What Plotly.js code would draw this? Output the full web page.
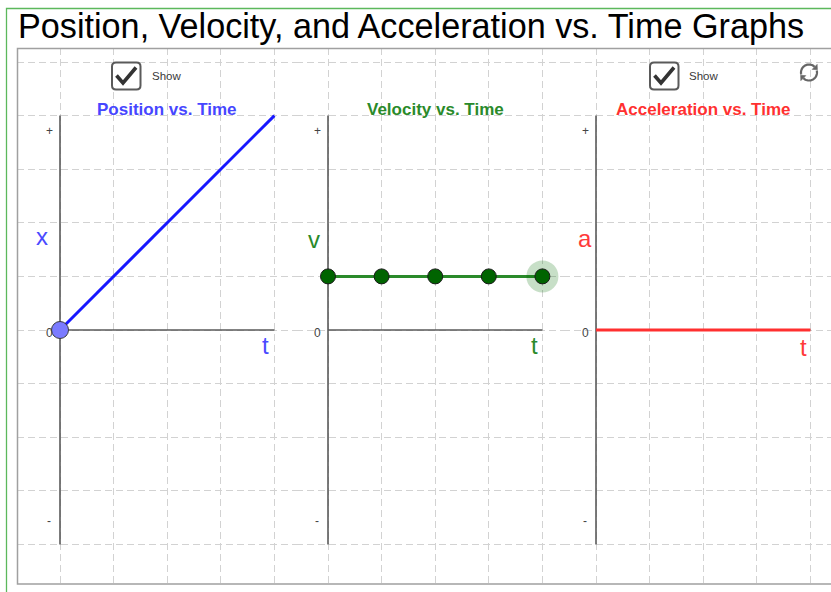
<!DOCTYPE html>
<html>
<head>
<meta charset="utf-8">
<script src="https://cdn.plot.ly/plotly-3.0.1.min.js"></script>
<style>
  html, body { margin: 0; padding: 0; background: #ffffff; }
  #chart { width: 831px; height: 592px; }
</style>
</head>
<body>
<div id="chart"></div>
<script>
// ---------------- data ----------------
const mainTitle = 'Position, Velocity, and Acceleration vs. Time Graphs';
const panelTitles = ['Position vs. Time', 'Velocity vs. Time', 'Acceleration vs. Time'];
const quantityLabels = ['x', 'v', 'a'];
const timeLabel = 't';
const timeVals = [0, 1, 2, 3, 4];
const positionVals = [0, 1, 2, 3, 4];
const velocityVals = [1, 1, 1, 1, 1];
const accelerationVals = [0, 0, 0, 0, 0];
const axisTimeExtent = [0, 4];
const axisValueExtent = [-4, 4];
const tickLabels = ['+', '0', '-'];
const tickLabelValues = [3.72, -0.05, -3.57];
const checkboxLabel = 'Show';

// ---------------- layout helpers ----------------
const W = 831, H = 592;
const FONT = '"Liberation Sans", Arial, sans-serif';
const px = x => x / W;
const py = y => 1 - y / H;
const P = (x, y) => px(x) + ',' + py(y);
const U = 53.6;                         // pixels per grid unit
const panel = { left: 17, right: 831, top: 48, bottom: 584 };
const originX = [60, 328, 596];
const originY = 330;
const splits = [17, 296, 563, 831];
const colors = ['#1818ff', '#2a8a2a', '#ff3030'];
const titleColors = ['#4646ff', '#2a8a2a', '#ff3030'];
const labelColors = ['#4a4aff', '#2a8a2a', '#ff3a3a'];
const qLabelPos = [[-0.33, 1.75], [-0.26, 1.68], [-0.2, 1.7]];
const tLabelPos = [[3.83, -0.28], [3.86, -0.28], [3.87, -0.32]];

const layout = {
  width: W, height: H,
  margin: { l: 0, r: 0, t: 0, b: 0 },
  paper_bgcolor: '#ffffff',
  plot_bgcolor: 'rgba(0,0,0,0)',
  showlegend: false,
  hovermode: false,
  annotations: [],
  shapes: []
};

const yRange = [(originY - panel.bottom) / U, (originY - panel.top) / U];
for (let i = 0; i < 3; i++) {
  const sfx = i === 0 ? '' : String(i + 1);
  const ax = {
    domain: [px(splits[i]), px(splits[i + 1])],
    range: [(splits[i] - originX[i]) / U, (splits[i + 1] - originX[i]) / U],
    showgrid: true, gridcolor: '#d2d2d2', gridwidth: 1, griddash: '7px,4px',
    dtick: 1, tick0: 0, showticklabels: false, ticks: '',
    zeroline: false, showline: false, fixedrange: true,
    anchor: 'y' + sfx
  };
  const ay = {
    domain: [py(panel.bottom), py(panel.top)],
    range: yRange,
    showgrid: true, gridcolor: '#d2d2d2', gridwidth: 1, griddash: '7px,4px',
    dtick: 1, tick0: 0, showticklabels: false, ticks: '',
    zeroline: false, showline: false, fixedrange: true,
    anchor: 'x' + sfx
  };
  layout['xaxis' + sfx] = ax;
  layout['yaxis' + sfx] = ay;

  const xr = 'x' + sfx, yr = 'y' + sfx;
  // axes lines
  layout.shapes.push({ type: 'line', xref: xr, yref: yr, layer: 'between',
    x0: 0, x1: 0, y0: axisValueExtent[0], y1: axisValueExtent[1],
    line: { color: '#5a5a5a', width: 1.6 } });
  layout.shapes.push({ type: 'line', xref: xr, yref: yr, layer: 'between',
    x0: axisTimeExtent[0], x1: axisTimeExtent[1], y0: 0, y1: 0,
    line: { color: '#5a5a5a', width: 1.6 } });

  // panel titles
  layout.annotations.push({ xref: xr, yref: yr, x: 2, y: 4.12, xanchor: 'center', yanchor: 'middle',
    text: '<b>' + panelTitles[i] + '</b>', showarrow: false,
    font: { family: FONT, size: 17, color: titleColors[i] } });
  // quantity label
  layout.annotations.push({ xref: xr, yref: yr, x: qLabelPos[i][0], y: qLabelPos[i][1], xanchor: 'center', yanchor: 'middle',
    text: quantityLabels[i], showarrow: false,
    font: { family: FONT, size: 24, color: labelColors[i] } });
  // time label
  layout.annotations.push({ xref: xr, yref: yr, x: tLabelPos[i][0], y: tLabelPos[i][1], xanchor: 'center', yanchor: 'middle',
    text: timeLabel, showarrow: false,
    font: { family: FONT, size: 24, color: labelColors[i] } });
  // tick labels
  tickLabels.forEach((t, k) => {
    layout.annotations.push({ xref: xr, yref: yr, x: -0.2, y: tickLabelValues[k], xanchor: 'center', yanchor: 'middle',
      text: t, showarrow: false,
      font: { family: FONT, size: 12, color: '#444444' } });
  });
}

// main title
layout.annotations.push({ xref: 'paper', yref: 'paper', x: px(16), y: py(26), xanchor: 'left', yanchor: 'middle',
  text: mainTitle, showarrow: false, font: { family: FONT, size: 34.2, color: '#000000' } });

// checkbox labels
[[150, 76], [687, 76]].forEach(([x, y]) => {
  layout.annotations.push({ xref: 'paper', yref: 'paper', x: px(x), y: py(y), xanchor: 'left', yanchor: 'middle',
    text: checkboxLabel, showarrow: false, font: { family: FONT, size: 11.5, color: '#3a3a3a' } });
});

// frame: green outer border and grey panel border
layout.shapes.push({ type: 'path', xref: 'paper', yref: 'paper', layer: 'above',
  path: 'M' + P(6.5, 592) + 'L' + P(6.5, 8.5) + 'L' + P(831, 8.5),
  line: { color: '#5cb85c', width: 1.3 } });
layout.shapes.push({ type: 'path', xref: 'paper', yref: 'paper', layer: 'above',
  path: 'M' + P(831, 48.5) + 'L' + P(17.5, 48.5) + 'L' + P(17.5, 584) + 'L' + P(831, 584),
  line: { color: '#a0a0a0', width: 1.5 } });

// checkboxes
function roundRect(x0, y0, x1, y1, r) {
  return 'M' + P(x0 + r, y0) + 'L' + P(x1 - r, y0) + 'Q' + P(x1, y0) + ' ' + P(x1, y0 + r) +
    'L' + P(x1, y1 - r) + 'Q' + P(x1, y1) + ' ' + P(x1 - r, y1) +
    'L' + P(x0 + r, y1) + 'Q' + P(x0, y1) + ' ' + P(x0, y1 - r) +
    'L' + P(x0, y0 + r) + 'Q' + P(x0, y0) + ' ' + P(x0 + r, y0) + 'Z';
}
[112, 650].forEach(bx => {
  layout.shapes.push({ type: 'path', xref: 'paper', yref: 'paper', layer: 'above',
    path: roundRect(bx, 62.5, bx + 28.5, 89.5, 4),
    fillcolor: '#ffffff', line: { color: '#5a5a5a', width: 2 } });
  layout.shapes.push({ type: 'path', xref: 'paper', yref: 'paper', layer: 'above',
    path: 'M' + P(bx + 4.5, 75.5) + 'L' + P(bx + 11, 83) + 'L' + P(bx + 24, 67.5),
    line: { color: '#333333', width: 3.6 } });
});

// refresh icon
function arcPts(cx, cy, r, a0, a1, n) {
  let s = '';
  for (let k = 0; k <= n; k++) {
    const a = (a0 + (a1 - a0) * k / n) * Math.PI / 180;
    s += (k === 0 ? 'M' : 'L') + P(cx + r * Math.cos(a), cy - r * Math.sin(a));
  }
  return s;
}
function arrowHead(cx, cy, r, a) {
  const t = a * Math.PI / 180;
  const ex = cx + r * Math.cos(t), ey = cy - r * Math.sin(t);
  const dx = Math.sin(t), dy = Math.cos(t);       // clockwise tangent (screen)
  const nx = Math.cos(t), ny = -Math.sin(t);      // radial
  const s = 3.6;
  return 'M' + P(ex + nx * s, ey + ny * s) + 'L' + P(ex - nx * s, ey - ny * s) +
    'L' + P(ex + dx * s * 1.1, ey + dy * s * 1.1) + 'Z';
}
const ic = [809, 72.5, 8];
[[195, 45], [15, -135]].forEach(([a0, a1]) => {
  layout.shapes.push({ type: 'path', xref: 'paper', yref: 'paper', layer: 'above',
    path: arcPts(ic[0], ic[1], ic[2], a0, a1, 24), line: { color: '#666666', width: 2.2 } });
  layout.shapes.push({ type: 'path', xref: 'paper', yref: 'paper', layer: 'above',
    path: arrowHead(ic[0], ic[1], ic[2], a1), fillcolor: '#666666', line: { color: '#666666', width: 0.5 } });
});

// ---------------- traces ----------------
const last = timeVals.length - 1;
const traces = [
  { x: timeVals, y: positionVals, xaxis: 'x', yaxis: 'y', mode: 'lines',
    line: { color: colors[0], width: 3 }, hoverinfo: 'skip' },
  { x: [timeVals[0]], y: [positionVals[0]], xaxis: 'x', yaxis: 'y', mode: 'markers',
    marker: { size: 17, color: '#7b7bff', line: { color: '#3c3c3c', width: 1 } }, hoverinfo: 'skip' },
  { x: timeVals, y: velocityVals, xaxis: 'x2', yaxis: 'y2', mode: 'lines',
    line: { color: colors[1], width: 3 }, hoverinfo: 'skip' },
  { x: [timeVals[last]], y: [velocityVals[last]], xaxis: 'x2', yaxis: 'y2', mode: 'markers',
    marker: { size: 32, color: 'rgba(0,110,0,0.22)' }, hoverinfo: 'skip' },
  { x: timeVals, y: velocityVals, xaxis: 'x2', yaxis: 'y2', mode: 'markers',
    marker: { size: 15, color: '#006400', line: { color: '#1a1a1a', width: 1 } }, hoverinfo: 'skip' },
  { x: timeVals, y: accelerationVals, xaxis: 'x3', yaxis: 'y3', mode: 'lines',
    line: { color: colors[2], width: 3 }, hoverinfo: 'skip' }
];

Plotly.newPlot('chart', traces, layout, { staticPlot: true, displayModeBar: false });
</script>
</body>
</html>
